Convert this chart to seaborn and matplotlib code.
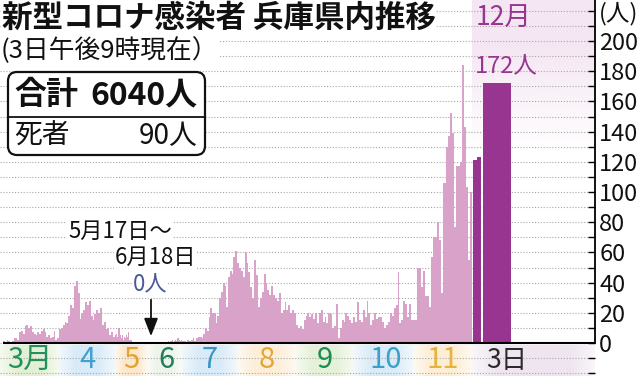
import numpy as np
import pandas as pd
import matplotlib
matplotlib.use('Agg')
import matplotlib.pyplot as plt
import seaborn as sns
from matplotlib.patches import FancyBboxPatch
from matplotlib.ticker import MultipleLocator
from matplotlib.colors import to_rgb

# ---------------- data ----------------
month_labels = ['3月', '4', '5', '6', '7', '8', '9', '10', '11']
month_days = [31, 30, 31, 30, 31, 31, 30, 31, 30]
month_colors = ['#23905f', '#3fa0d2', '#e0a52e', '#1f7d57', '#3796c3',
                '#e3a634', '#1b8c52', '#3ca0c8', '#e5b43c']
band_colors = ['#e2f0d4', '#d8ebf8', '#fde8cc', '#eef4ea', '#d9ebf8',
               '#fdeed8', '#e5f1d8', '#d9ebf8', '#fdeed5']

mar_vals = [1, 0, 2, 1, 0, 1, 3, 3, 2, 7, 8, 6, 11, 12, 10, 11, 7, 6, 5, 7,
            6, 8, 9, 7, 4, 5, 3, 4, 8, 2, 3]
apr_vals = [9, 10, 12, 14, 13, 18, 25, 23, 38, 41, 33, 16, 20, 22, 27, 25,
            28, 18, 15, 19, 22, 20, 23, 12, 14, 9, 10, 5, 7, 4]
may_vals = [5, 6, 4, 10, 9, 5, 3, 5, 2, 4, 3, 5, 4, 7, 2, 2,
            0, 0, 0, 0, 0, 0, 0, 0, 0, 0, 0, 0, 0, 0, 0]
jun_vals = [0, 0, 0, 0, 0, 0, 0, 0, 0, 0, 0, 0, 0, 0, 0, 0, 0, 0,
            1, 0, 1, 2, 0, 1, 2, 1, 3, 2, 1, 2]
jul_vals = [1, 1, 0, 2, 1, 2, 3, 1, 3, 4, 4, 3, 6, 10, 8, 17, 23, 20, 20,
            13, 18, 30, 34, 40, 38, 24, 44, 48, 46, 57, 61]
aug_vals = [53, 50, 48, 44, 60, 53, 47, 37, 30, 55, 45, 24, 30, 34, 46, 40,
            35, 32, 38, 32, 30, 28, 33, 20, 22, 27, 22, 25, 20, 22, 20]
sep_vals = [12, 10, 11, 9, 15, 18, 20, 17, 19, 16, 20, 13, 20, 22, 14, 17,
            13, 20, 19, 10, 11, 26, 3, 10, 15, 14, 20, 18, 15, 13]
oct_vals = [17, 14, 27, 15, 14, 22, 17, 28, 20, 12, 15, 20, 16, 17, 17, 14,
            10, 12, 14, 20, 18, 23, 25, 47, 13, 15, 28, 26, 17, 26, 15]
nov_vals = [15, 15, 50, 50, 37, 48, 31, 31, 24, 57, 70, 70, 80, 68, 33, 106,
            106, 130, 137, 152, 139, 77, 117, 117, 120, 184, 143, 103, 55, 100]

dec_labels = ['1日', '2日', '3日']
dec_vals = [121, 123, 172]

total_label = '6040人'
death_label = '90人'

# ---------------- layout (pixels of the 640x378 picture) ----------------
W, H = 640, 378
AXIS_X = 595          # right value axis
BASE_PY = 343         # pixel row of value 0
PX_PER_UNIT = 1.51
month_edges = [3, 59, 115, 147, 182, 237, 296, 353, 413, 472]
band_edges = [0, 59, 115, 147, 182, 237, 296, 353, 413, 472, AXIS_X]
dec_bins = [473, 477, 481, 483, 511]

PINK = '#d9a2c8'
PURPLE = '#973590'

sns.set_theme(style='white')
plt.rcParams['font.family'] = ['Noto Sans CJK JP', 'DejaVu Sans']

fig = plt.figure(figsize=(W / 100, H / 100), dpi=100)
ax = fig.add_axes([0, 0, AXIS_X / W, 1])


def Y(py):
    return (BASE_PY - py) / PX_PER_UNIT


ymin, ymax = Y(H), Y(0)

# daily bars Mar-Nov
monthly = [mar_vals, apr_vals, may_vals, jun_vals, jul_vals, aug_vals,
           sep_vals, oct_vals, nov_vals]
edges = []
for i, n in enumerate(month_days):
    edges.extend(np.linspace(month_edges[i], month_edges[i + 1], n + 1)[:-1])
edges.append(month_edges[-1])
edges = [float(e) for e in edges]
centers = [(a + b) / 2 for a, b in zip(edges[:-1], edges[1:])]
values = [float(v) for m in monthly for v in m]
daily = pd.DataFrame({'pos': centers, 'cases': values})

sns.histplot(data=daily, x='pos', weights='cases', bins=edges, color=PINK,
             alpha=1, linewidth=0, ax=ax, zorder=3)

# December bars
dec_centers = [(dec_bins[0] + dec_bins[1]) / 2, (dec_bins[1] + dec_bins[2]) / 2,
               (dec_bins[3] + dec_bins[4]) / 2]
dec = pd.DataFrame({'pos': dec_centers, 'cases': [float(v) for v in dec_vals]})
sns.histplot(data=dec, x='pos', weights='cases', bins=[float(b) for b in dec_bins],
             color=PURPLE, alpha=1, linewidth=0, ax=ax, zorder=3)
ax.set_xlabel('')
ax.set_ylabel('')


# month bands at the bottom
def hband(x0, x1, y0, y1, color, fade=0.3, floor=0.35):
    n = 200
    t = np.linspace(0, 1, n)
    a = np.clip(np.minimum(t, 1 - t) / fade, 0, 1)
    a = floor + (1 - floor) * a
    rgba = np.zeros((2, n, 4))
    rgba[..., :3] = to_rgb(color)
    rgba[..., 3] = a
    ax.imshow(rgba, extent=(x0, x1, y0, y1), aspect='auto',
              interpolation='bilinear', zorder=0)


for i in range(len(month_labels)):
    hband(band_edges[i], band_edges[i + 1], Y(376), Y(345), band_colors[i])
hband(band_edges[-2], band_edges[-1], Y(376), Y(345), '#efe5f0', fade=0.2)

# December shading at the top
n = 200
tt = np.linspace(0, 1, n)
rg = np.zeros((n, 2, 4))
rg[..., :3] = to_rgb('#f5e6f3')
rg[..., 3] = np.clip(1.4 * (1 - tt), 0, 1)[:, None]
ax.imshow(rg, extent=(472, AXIS_X, Y(150), Y(0)), aspect='auto',
          interpolation='bilinear', zorder=0, origin='upper')

# axes
ax.set_xlim(0, AXIS_X)
ax.set_ylim(ymin, ymax)
for s in ['left', 'top', 'bottom']:
    ax.spines[s].set_visible(False)
ax.spines['right'].set_bounds(0, ymax)
ax.spines['right'].set_color('black')
ax.spines['right'].set_linewidth(1.3)
ax.set_xticks([])
ax.yaxis.tick_right()
ticks = list(range(0, 221, 20))
ax.set_yticks(ticks)
ax.set_yticklabels([str(t) for t in ticks[:-1]] + ['(人)'])
ax.yaxis.set_minor_locator(MultipleLocator(10))
ax.tick_params(axis='y', which='both', direction='in', length=5, width=1,
               color='black', pad=3, labelsize=17, labelcolor='#111111')
ax.grid(axis='y', which='both', color='#a8a8a8', linestyle=(0, (1, 1.6)),
        linewidth=0.8)
ax.set_axisbelow(True)
ax.plot([3, AXIS_X], [0, 0], color='black', lw=1.5, zorder=4,
        solid_capstyle='butt')

# month labels
label_x = [30, 88, 131, 166, 210, 267, 325, 386, 443]
for lab, x, c in zip(month_labels, label_x, month_colors):
    ax.text(x, Y(360), lab, ha='center', va='center', fontsize=21,
            color=c, zorder=5)
ax.text(507, Y(361), dec_labels[2], ha='center', va='center', fontsize=19,
        color='#2a2a2a', zorder=5)

# titles
wbox = dict(facecolor='white', edgecolor='none', pad=0.5)
ax.text(2, Y(18), '新型コロナ感染者 兵庫県内推移', ha='left', va='center',
        fontsize=22, fontweight='bold', color='#111111', bbox=wbox, zorder=6)
ax.text(1, Y(51), '(3日午後9時現在）', ha='left', va='center', fontsize=18.5,
        color='#111111', bbox=wbox, zorder=6)

# summary box
bx0, bx1, by0, by1 = 8, 205, 72, 155
box = FancyBboxPatch((bx0, Y(by1)), bx1 - bx0, Y(by0) - Y(by1),
                     boxstyle='round,pad=0,rounding_size=9',
                     mutation_aspect=1 / PX_PER_UNIT,
                     facecolor='white', edgecolor='#111111', lw=1.6, zorder=6)
ax.add_patch(box)
ax.plot([bx0, bx1], [Y(117), Y(117)], color='#111111', lw=1.3, zorder=7)
ax.text(14, Y(95), '合計', ha='left', va='center', fontsize=23,
        fontweight='bold', color='#111111', zorder=7)
ax.text(198, Y(95), total_label, ha='right', va='center', fontsize=23,
        fontweight='bold', color='#111111', zorder=7)
ax.text(14, Y(136), '死者', ha='left', va='center', fontsize=20,
        color='#111111', zorder=7)
ax.text(198, Y(136), death_label, ha='right', va='center', fontsize=20,
        color='#111111', zorder=7)

# zero-period annotation
ax.text(120, Y(231), '5月17日～', ha='center', va='center', fontsize=16,
        color='#111111', bbox=wbox, zorder=6)
ax.text(155, Y(257), '6月18日', ha='center', va='center', fontsize=16,
        color='#111111', bbox=wbox, zorder=6)
ax.text(150, Y(285), '0人', ha='center', va='center', fontsize=16,
        color='#4a5a94', bbox=wbox, zorder=6)
ax.annotate('', xy=(151, Y(339)), xytext=(151, Y(297)),
            arrowprops=dict(arrowstyle='-|>,head_length=0.9,head_width=0.35',
                            color='#111111', lw=1.3), zorder=6)

# December labels
ax.text(503, Y(18), '12月', ha='center', va='center', fontsize=19,
        color=PURPLE, zorder=6)
ax.text(506, Y(66), f'{dec_vals[2]}人', ha='center', va='center',
        fontsize=17, color=PURPLE, zorder=6)

fig.savefig('out.png', dpi=100)
